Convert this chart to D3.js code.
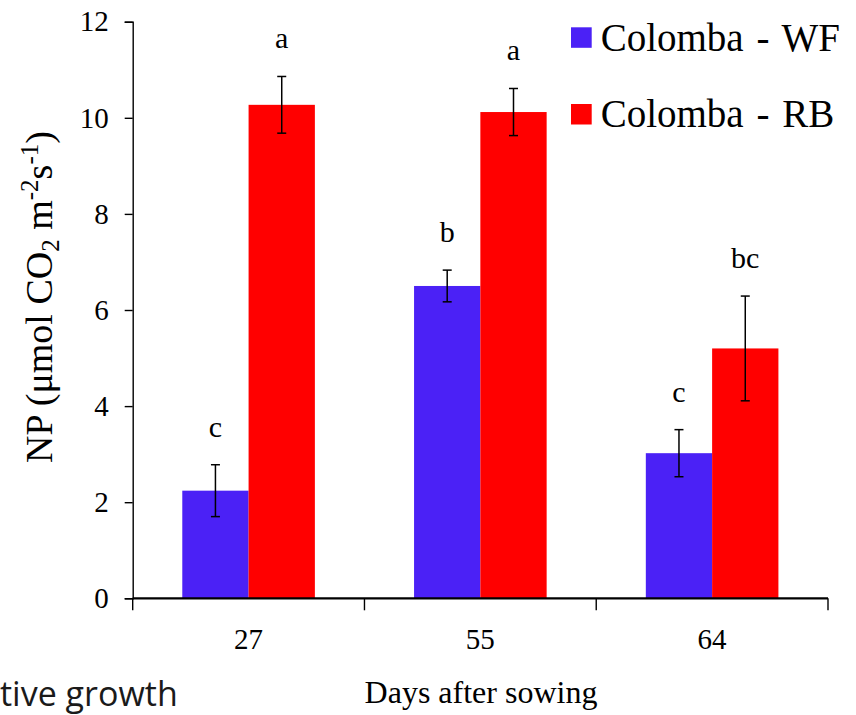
<!DOCTYPE html>
<html>
<head>
<meta charset="utf-8">
<script src="https://cdn.jsdelivr.net/npm/d3@7"></script>
<style>
  body { margin: 0; background: #fff; }
  svg text { font-family: 'Liberation Serif', 'Times New Roman', serif; }
  svg text.caption { font-family: 'Open Sans', 'Noto Sans', sans-serif; }
</style>
</head>
<body>
<div id="chart"></div>
<script>
const days = ['27', '55', '64']
const series = ['Colomba - WF', 'Colomba - RB']
const wfValues = [2.24, 6.5, 3.02]
const wfErrors = [0.54, 0.33, 0.49]
const rbValues = [10.27, 10.12, 5.2]
const rbErrors = [0.59, 0.49, 1.09]
const wfLetters = ['c', 'b', 'c']
const rbLetters = ['a', 'a', 'bc']
const yTicks = [0, 2, 4, 6, 8, 10, 12]

const colors = { 'Colomba - WF': '#4b21f6', 'Colomba - RB': '#ff0000' }

const width = 856
const height = 715

const svg = d3
  .select('#chart')
  .append('svg')
  .attr('width', width)
  .attr('height', height)

svg.append('rect').attr('width', width).attr('height', height).attr('fill', 'white')

const x0 = d3.scaleBand().domain(days).range([132.7, 828]).paddingInner(0).paddingOuter(0)
const x1 = d3.scaleBand().domain(series).range([0, x0.bandwidth()]).paddingInner(0).paddingOuter(0.748)
const y = d3.scaleLinear().domain([0, 12]).range([598.3, 21.7])

// build rows from the arrays
const rows = []
days.forEach((d, i) => {
  rows.push({ day: d, s: series[0], v: wfValues[i], e: wfErrors[i], letter: wfLetters[i] })
  rows.push({ day: d, s: series[1], v: rbValues[i], e: rbErrors[i], letter: rbLetters[i] })
})

// bars
svg
  .selectAll('rect.bar')
  .data(rows)
  .enter()
  .append('rect')
  .attr('class', 'bar')
  .attr('x', d => x0(d.day) + x1(d.s))
  .attr('width', x1.bandwidth())
  .attr('y', d => y(d.v))
  .attr('height', d => y(0) - y(d.v))
  .attr('fill', d => colors[d.s])

// error bars
const cx = d => x0(d.day) + x1(d.s) + x1.bandwidth() / 2
const err = svg.append('g').attr('stroke', 'black').attr('stroke-width', 1.5)
rows.forEach(d => {
  const top = y(d.v + d.e)
  const bot = y(d.v - d.e)
  err.append('line').attr('x1', cx(d)).attr('x2', cx(d)).attr('y1', top).attr('y2', bot)
  err.append('line').attr('x1', cx(d) - 4.5).attr('x2', cx(d) + 4.5).attr('y1', top).attr('y2', top)
  err.append('line').attr('x1', cx(d) - 4.5).attr('x2', cx(d) + 4.5).attr('y1', bot).attr('y2', bot)
})

// significance letters
svg
  .selectAll('text.letter')
  .data(rows)
  .enter()
  .append('text')
  .attr('class', 'letter')
  .attr('x', cx)
  .attr('y', d => y(d.v + d.e) - 28)
  .attr('text-anchor', 'middle')
  .attr('font-size', 30)
  .text(d => d.letter)

// y axis
const yAxis = svg
  .append('g')
  .attr('transform', 'translate(132.7,0)')
  .call(d3.axisLeft(y).tickValues(yTicks).tickSize(8).tickPadding(16))
yAxis.select('.domain').attr('stroke-width', 1.4)
yAxis.selectAll('.tick line').attr('stroke-width', 1.4)
yAxis.selectAll('.tick text')
  .attr('font-size', 29)
  .attr('fill', 'black')

// x axis: ticks at group boundaries
const boundaries = days.map(d => x0(d)).concat([x0.range()[1]])
const xAxis = svg.append('g').attr('transform', 'translate(0,' + y(0) + ')')
xAxis.append('line')
  .attr('x1', x0.range()[0]).attr('x2', x0.range()[1])
  .attr('stroke', 'black').attr('stroke-width', 2.2)
xAxis.selectAll('line.tk')
  .data(boundaries)
  .enter()
  .append('line')
  .attr('class', 'tk')
  .attr('x1', d => d).attr('x2', d => d)
  .attr('y1', 0).attr('y2', 12)
  .attr('stroke', 'black').attr('stroke-width', 1.4)
xAxis.selectAll('text.day')
  .data(days)
  .enter()
  .append('text')
  .attr('class', 'day')
  .attr('x', d => x0(d) + x0.bandwidth() / 2)
  .attr('y', 51)
  .attr('text-anchor', 'middle')
  .attr('font-size', 29)
  .text(d => d)

svg.append('text')
  .attr('x', 481)
  .attr('y', 703)
  .attr('text-anchor', 'middle')
  .attr('font-size', 32)
  .text('Days after sowing')

// y title
const yt = svg.append('text')
  .attr('transform', 'translate(52,297) rotate(-90)')
  .attr('text-anchor', 'middle')
  .attr('font-size', 38)
yt.append('tspan').text('NP (μmol CO')
yt.append('tspan').attr('font-size', 25).attr('dy', 7).text('2')
yt.append('tspan').attr('dy', -7).text(' m')
yt.append('tspan').attr('font-size', 25).attr('dy', -14).text('-2')
yt.append('tspan').attr('dy', 14).text('s')
yt.append('tspan').attr('font-size', 25).attr('dy', -14).text('-1')
yt.append('tspan').attr('dy', 14).text(')')

// legend
const legend = svg.append('g')
series.forEach((s, i) => {
  const g = legend.append('g').attr('transform', 'translate(571,' + (27.3 + i * 76.7) + ')')
  g.append('rect').attr('width', 20.7).attr('height', 20.5).attr('fill', colors[s])
  g.append('text').attr('x', 29.7).attr('y', 23.4).attr('font-size', 39)
    .attr('word-spacing', 3).text(s)
})

// leftover caption from the slide
svg.append('text')
  .attr('class', 'caption')
  .attr('x', 0)
  .attr('y', 706)
  .attr('font-size', 34)
  .attr('fill', '#1a1a1a')
  .text('tive growth')
</script>
</body>
</html>
